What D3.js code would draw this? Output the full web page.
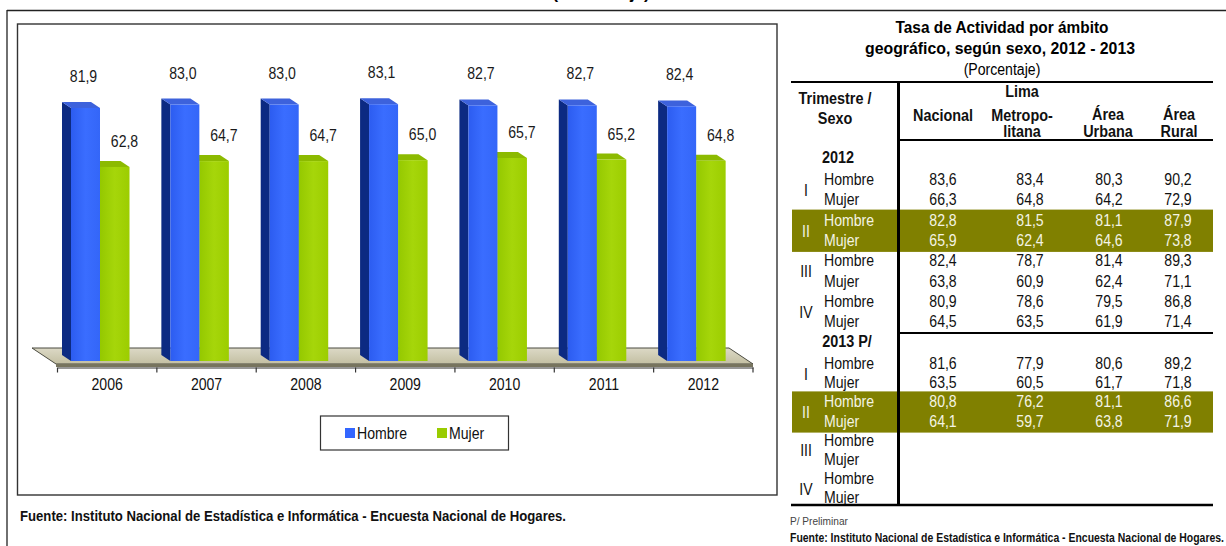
<!DOCTYPE html>
<html>
<head>
<meta charset="utf-8">
<script src="https://cdn.jsdelivr.net/npm/d3@7"></script>
<style>
  body { margin: 0; background: #fff; }
  svg { display: block; font-family: "Liberation Sans", Arial, sans-serif; }
</style>
</head>
<body>
<svg id="chart" width="1226" height="546"></svg>
<script>
// ---- chart data
const years = ["2006", "2007", "2008", "2009", "2010", "2011", "2012"];
const hombre = [81.9, 83.0, 83.0, 83.1, 82.7, 82.7, 82.4];
const mujer = [62.8, 64.7, 64.7, 65.0, 65.7, 65.2, 64.8];
const series = ["Hombre", "Mujer"];

// ---- table data
const periodos = ["2012", "2013 P/"];
const trimestres = ["I", "II", "III", "IV"];
const sexos = ["Hombre", "Mujer"];
const columnas = [["Nacional"], ["Lima", "Metropo-", "litana"], ["Área", "Urbana"], ["Área", "Rural"]];
const nacional = [83.6, 66.3, 82.8, 65.9, 82.4, 63.8, 80.9, 64.5, 81.6, 63.5, 80.8, 64.1, null, null, null, null];
const lima     = [83.4, 64.8, 81.5, 62.4, 78.7, 60.9, 78.6, 63.5, 77.9, 60.5, 76.2, 59.7, null, null, null, null];
const urbana   = [80.3, 64.2, 81.1, 64.6, 81.4, 62.4, 79.5, 61.9, 80.6, 61.7, 81.1, 63.8, null, null, null, null];
const rural    = [90.2, 72.9, 87.9, 73.8, 89.3, 71.1, 86.8, 71.4, 89.2, 71.8, 86.6, 71.9, null, null, null, null];

const fuente = "Fuente: Instituto Nacional de Estadística e Informática - Encuesta Nacional de Hogares.";

const es = d3.formatLocale({decimal: ",", thousands: ".", grouping: [3], currency: ["", ""]});
const fmt = es.format(".1f");

const svg = d3.select("#chart");

// narrow look: squeeze glyphs horizontally
function squeeze(sel, k) {
  sel.each(function () {
    const w = this.getComputedTextLength();
    this.setAttribute("textLength", w * k);
    this.setAttribute("lengthAdjust", "spacingAndGlyphs");
  });
}

const defs = svg.append("defs");
function grad(id, stops, x2, y2) {
  const g = defs.append("linearGradient").attr("id", id)
    .attr("x1", 0).attr("y1", 0).attr("x2", x2).attr("y2", y2);
  stops.forEach((c, i) => g.append("stop").attr("offset", i / (stops.length - 1)).attr("stop-color", c));
}
grad("gBlue", ["#2c5cf0", "#3a6dff", "#3466f8"], 1, 0);
grad("gGreen", ["#94c800", "#a6d60a", "#9ccd00"], 1, 0);
grad("gFloor", ["#dcd9c6", "#c3bfa2"], 0, 1);

// ---- page frame lines
// title of the chart sits above the picture, only its lowest pixels show
svg.append("text").attr("x", 601).attr("y", -1).attr("text-anchor", "middle")
  .attr("font-size", 16).attr("font-weight", "bold").attr("textLength", 97)
  .attr("lengthAdjust", "spacingAndGlyphs").text("(Porcentaje)");
svg.append("line").attr("x1", 7).attr("x2", 1226).attr("y1", 10.5).attr("y2", 10.5)
  .attr("stroke", "#222").attr("stroke-width", 1.3);
svg.append("line").attr("x1", 7).attr("x2", 7).attr("y1", 10).attr("y2", 546)
  .attr("stroke", "#222").attr("stroke-width", 1.3);

// chart box
svg.append("rect").attr("x", 17.5).attr("y", 24).attr("width", 759.5).attr("height", 471)
  .attr("fill", "#fff").attr("stroke", "#333").attr("stroke-width", 1.4);

// ---- scales
const x = d3.scaleBand().domain(years).range([57.5, 753]);
const y = d3.scaleLinear().domain([0, 100]).range([361, 52]);
const dx = -9, dy = -6;
const base = y(0);

// floor
const fl = 56, fr = 753, fFront = 364, fBack = 348, fShift = -24;
svg.append("polygon")
  .attr("points", [[fl, fFront], [fr, fFront], [fr + fShift, fBack], [fl + fShift, fBack]].join(" "))
  .attr("fill", "url(#gFloor)").attr("stroke", "#4a4a40").attr("stroke-width", 1);
svg.append("rect").attr("x", fl).attr("y", fFront).attr("width", fr - fl).attr("height", 3)
  .attr("fill", "#77745e");

// axis
const axis = svg.append("g").attr("transform", "translate(0,367.5)")
  .call(d3.axisBottom(x).tickSize(0).tickPadding(10));
axis.select(".domain").attr("stroke", "#333").attr("stroke-width", 1.2);
axis.selectAll(".tick text").attr("font-size", 16).attr("fill", "#111")
  .attr("font-family", "Liberation Sans, Arial, sans-serif").attr("dy", "0.75em");
axis.selectAll(".bound").data(years.concat(["end"])).enter().append("line")
  .attr("class", "bound")
  .attr("x1", (d, i) => i < years.length ? x(d) : x.range()[1])
  .attr("x2", (d, i) => i < years.length ? x(d) : x.range()[1])
  .attr("y1", 0).attr("y2", 5).attr("stroke", "#333").attr("stroke-width", 1.2);
squeeze(axis.selectAll(".tick text"), 0.88);

// bars
const data = years.map((yr, i) => ({year: yr, h: hombre[i], m: mujer[i]}));
function bar3d(g, x0, w, v, front, side, top) {
  const yt = y(v);
  g.append("polygon").attr("points", [[x0, yt], [x0 + dx, yt + dy], [x0 + dx, base + dy], [x0, base]].join(" "))
    .attr("fill", side);
  g.append("polygon").attr("points", [[x0, yt], [x0 + dx, yt + dy], [x0 + w + dx, yt + dy], [x0 + w, yt]].join(" "))
    .attr("fill", top);
  g.append("rect").attr("x", x0).attr("y", yt).attr("width", w).attr("height", base - yt)
    .attr("fill", front);
}
const bars = svg.append("g");
data.forEach(d => {
  const g = bars.append("g");
  const x0 = x(d.year) + 13.5;
  bar3d(g, x0 + 29, 29.5, d.m, "url(#gGreen)", "#6f9400", "#8cba00");
  bar3d(g, x0, 29, d.h, "url(#gBlue)", "#0c2a82", "#3d62dc");
});

// value labels
const lab = svg.append("g").attr("font-size", 16).attr("fill", "#1a1a1a").attr("text-anchor", "middle");
lab.selectAll(".lh").data(data).enter().append("text")
  .attr("x", d => x(d.year) + 26).attr("y", d => y(d.h) - 26).text(d => fmt(d.h));
lab.selectAll(".lm").data(data).enter().append("text")
  .attr("x", d => x(d.year) + 67).attr("y", d => y(d.m) - 20).text(d => fmt(d.m));
squeeze(lab.selectAll("text"), 0.88);

// legend
const lg = svg.append("g");
lg.append("rect").attr("x", 320.5).attr("y", 416).attr("width", 188).attr("height", 34)
  .attr("fill", "#fff").attr("stroke", "#333").attr("stroke-width", 1.2);
const legColors = ["#3366ff", "#99cc00"];
const legX = [345, 437];
series.forEach((s, i) => {
  lg.append("rect").attr("x", legX[i]).attr("y", 428).attr("width", 10).attr("height", 10)
    .attr("fill", legColors[i]);
  lg.append("text").attr("x", legX[i] + 12).attr("y", 439).attr("font-size", 16)
    .attr("fill", "#111").text(s);
});
squeeze(lg.selectAll("text"), 0.88);

// left footer
svg.append("text").attr("x", 20).attr("y", 521).attr("font-size", 15.5).attr("font-weight", "bold")
  .attr("fill", "#111").attr("textLength", 546).attr("lengthAdjust", "spacingAndGlyphs").text(fuente);

// ---- table
const t = svg.append("g");
const titleLines = ["Tasa de Actividad por ámbito", "geográfico, según sexo, 2012 - 2013"];
t.append("text").attr("x", 1002).attr("y", 33).attr("text-anchor", "middle").attr("font-size", 16)
  .attr("font-weight", "bold").attr("textLength", 213).attr("lengthAdjust", "spacingAndGlyphs").text(titleLines[0]);
t.append("text").attr("x", 1000).attr("y", 54).attr("text-anchor", "middle").attr("font-size", 16)
  .attr("font-weight", "bold").attr("textLength", 270).attr("lengthAdjust", "spacingAndGlyphs").text(titleLines[1]);
t.append("text").attr("x", 1002).attr("y", 75).attr("text-anchor", "middle").attr("font-size", 16)
  .text("(Porcentaje)").call(squeeze, 0.88);

const colX = d3.scaleOrdinal().domain([0, 1, 2, 3]).range([943, 1030, 1109, 1178]);
const headX = [943, 1022, 1108, 1179];
const headY = {1: [121], 2: [120, 137], 3: [97, 121, 137]};

// olive bands for II
const blockBase = [163, 347];
const step = [20.3, 19.2];
const rowY = (p, r) => blockBase[p] + 22 + r * step[p];
periodos.forEach((p, pi) => {
  const y1 = rowY(pi, 2), y2 = rowY(pi, 3);
  t.append("rect").attr("x", 792).attr("y", y1 - 16).attr("width", 421).attr("height", y2 - y1 + 22)
    .attr("fill", "#808000");
});

// header
const hdr = t.append("g").attr("font-weight", "bold").attr("font-size", 16).attr("text-anchor", "middle").attr("fill", "#111");
hdr.append("text").attr("x", 835).attr("y", 104).text("Trimestre /");
hdr.append("text").attr("x", 835).attr("y", 124).text("Sexo");
columnas.forEach((lines, ci) => {
  lines.forEach((s, li) => {
    hdr.append("text").attr("x", headX[ci]).attr("y", headY[lines.length][li]).text(s);
  });
});
periodos.forEach((p, pi) => {
  hdr.append("text").attr("x", pi === 0 ? 838 : 847).attr("y", blockBase[pi]).text(p);
});
squeeze(hdr.selectAll("text"), 0.9);

// body
const body = t.append("g").attr("font-size", 16);
const cols = [nacional, lima, urbana, rural];
periodos.forEach((p, pi) => {
  trimestres.forEach((q, qi) => {
    const hi = qi === 1;
    const ink = hi ? "#f4f4e4" : "#111";
    const r0 = qi * 2;
    body.append("text").attr("x", 806).attr("y", (rowY(pi, r0) + rowY(pi, r0 + 1)) / 2 + 1)
      .attr("text-anchor", "middle").attr("fill", ink).text(q);
    sexos.forEach((s, si) => {
      const r = r0 + si;
      body.append("text").attr("x", 824).attr("y", rowY(pi, r)).attr("fill", ink).text(s);
      cols.forEach((c, ci) => {
        const v = c[pi * 8 + r];
        if (v == null) return;
        body.append("text").attr("x", colX(ci)).attr("y", rowY(pi, r))
          .attr("text-anchor", "middle").attr("fill", ink).text(fmt(v));
      });
    });
  });
});
squeeze(body.selectAll("text"), 0.88);

// rules
const rule = (x1, x2, y1, y2, w) => t.append("line").attr("x1", x1).attr("x2", x2).attr("y1", y1).attr("y2", y2)
  .attr("stroke", "#000").attr("stroke-width", w);
rule(791, 1213, 82, 82, 2);
rule(898, 1213, 140, 140, 2);
rule(898, 1213, 333, 333, 2);
rule(791, 1213, 505, 505, 2.5);
rule(898.5, 898.5, 81, 506, 3);

t.append("text").attr("x", 790).attr("y", 525).attr("font-size", 11.5).attr("fill", "#444")
  .text("P/ Preliminar").call(squeeze, 0.88);
t.append("text").attr("x", 790).attr("y", 542).attr("font-size", 12).attr("font-weight", "bold")
  .attr("fill", "#111").attr("textLength", 434).attr("lengthAdjust", "spacingAndGlyphs").text(fuente);
</script>
</body>
</html>
